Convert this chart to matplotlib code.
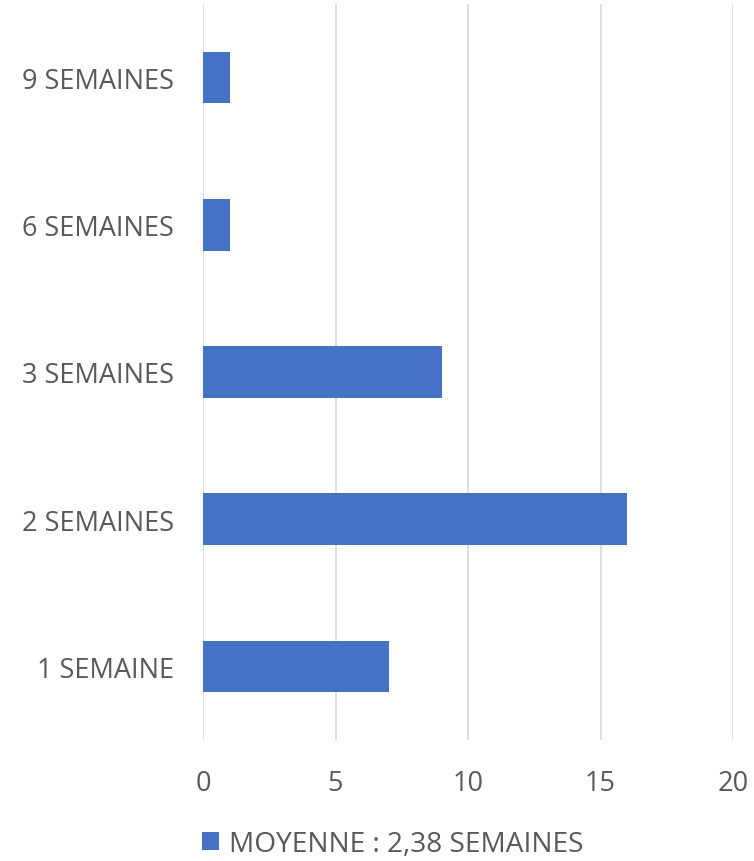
import matplotlib
matplotlib.use("Agg")
import matplotlib.pyplot as plt
from matplotlib.patches import Patch

categories = ["1 SEMAINE", "2 SEMAINES", "3 SEMAINES", "6 SEMAINES", "9 SEMAINES"]
values = [7, 16, 9, 1, 1]
xticks = [0, 5, 10, 15, 20]
legend_label = "MOYENNE : 2,38 SEMAINES"

bar_color = "#4472C4"
text_color = "#595959"
grid_color = "#D9D9D9"

plt.rcParams['font.family'] = ['Open Sans', 'DejaVu Sans']

fig = plt.figure(figsize=(7.54, 8.62), dpi=100)
ax = fig.add_axes([203/754, 1-741/862, 530/754, 736/862])

ypos = list(range(len(categories)))
ax.barh(ypos, values, height=0.35, color=bar_color, zorder=3)
ax.set_yticks(ypos)
ax.set_yticklabels(categories)
ax.set_ylim(-0.5, len(categories) - 0.5)
ax.set_xlim(0, 20)
ax.set_xticks(xticks)
ax.set_xticklabels([str(t) for t in xticks])

ax.grid(axis='x', color=grid_color, linewidth=1.2, zorder=0)
for s in ax.spines.values():
    s.set_visible(False)
ax.tick_params(axis='both', length=0, labelsize=19.5, colors=text_color)
ax.tick_params(axis='x', pad=21)
ax.tick_params(axis='y', pad=21)

handle = Patch(facecolor=bar_color, edgecolor='none')
fig.legend([handle], [legend_label], loc='center', bbox_to_anchor=(393/754, 1-845/862),
           frameon=False, fontsize=20.2, labelcolor=text_color,
           handlelength=0.6, handleheight=0.6, handletextpad=0.35)

fig.savefig("out.png", dpi=100)
